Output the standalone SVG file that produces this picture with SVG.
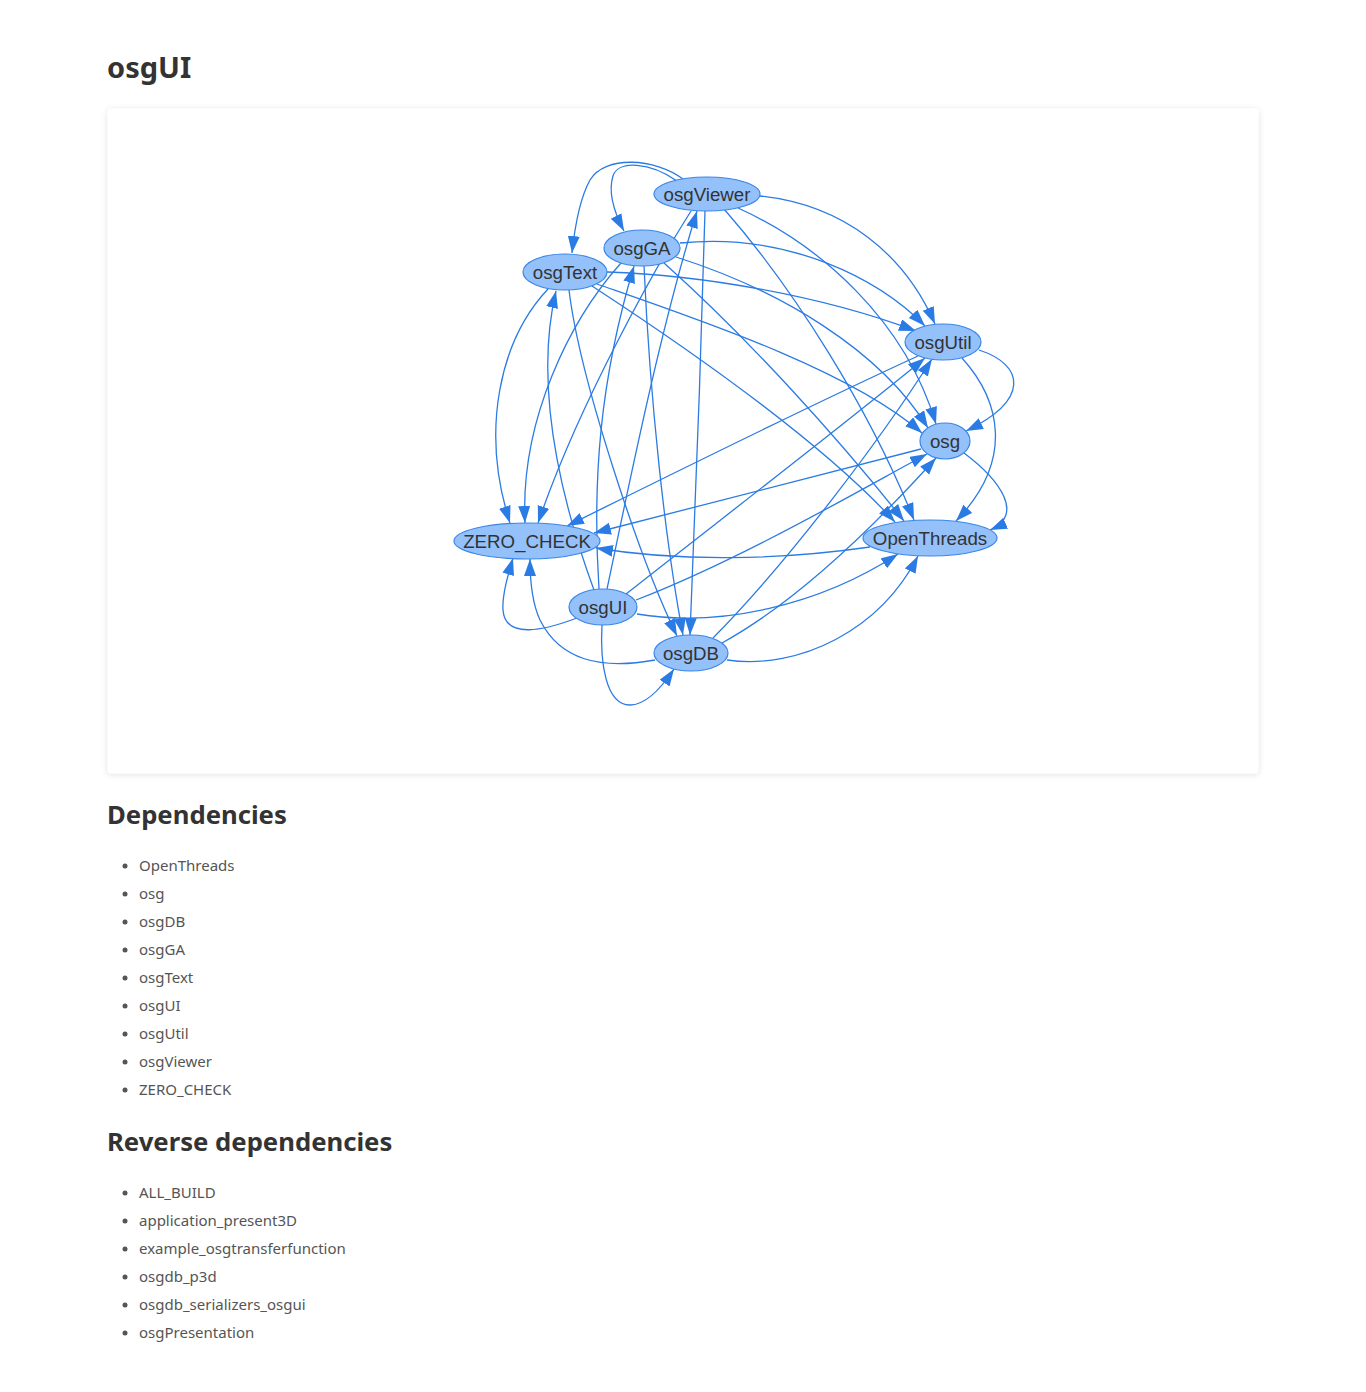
<svg xmlns="http://www.w3.org/2000/svg" width="1366" height="1392" viewBox="0 0 1366 1392">
<defs>
<filter id="shadow" x="-5%" y="-5%" width="110%" height="115%">
<feDropShadow dx="0" dy="1" stdDeviation="3" flood-color="#000" flood-opacity="0.12"/>
</filter>
<marker id="arr" markerUnits="userSpaceOnUse" markerWidth="18" markerHeight="13" refX="17" refY="6" orient="auto">
<path d="M0,0 L17,6 L0,12 z" fill="#2b7be4"/>
</marker>
</defs>
<style>
.h1{font-family:"Noto Sans",sans-serif;font-weight:bold;font-size:29px;fill:#333}
.h2{font-family:"Noto Sans",sans-serif;font-weight:bold;font-size:25.7px;fill:#333}
.li{font-family:"Noto Sans",sans-serif;font-size:15px;fill:#555}
.bul{fill:#555}
.edge{fill:none;stroke:#2b7be4;stroke-width:1.3;marker-end:url(#arr)}
.node ellipse{fill:#94c1fa;stroke:#3a86e8;stroke-width:1.2}
.node text{font-family:"Liberation Sans",Arial,sans-serif;font-size:18.7px;fill:#333;text-anchor:middle}
</style>
<rect width="1366" height="1392" fill="#fff"/>
<text class="h1" x="107" y="78">osgUI</text>
<rect x="107.5" y="108.5" width="1151" height="665" rx="4" fill="#fff" filter="url(#shadow)"/>

<g id="connectors">
<!-- osgViewer -->
<path class="edge" d="M683,179 C655,158 605,155 590,180 C580,198 575,225 572,253"/>
<path class="edge" d="M677,181 C650,162 618,160 613,176 C608,192 614,212 624,231"/>
<path class="edge" d="M760,196 C845,205 905,255 935,324"/>
<path class="edge" d="M738,208 C820,245 905,320 936,424"/>
<path class="edge" d="M724,209 C795,290 870,410 914,520"/>
<path class="edge" d="M705,211 C701,350 696,500 690,635"/>
<path class="edge" d="M691,211 C660,260 580,400 538,523"/>
<!-- osgGA -->
<path class="edge" d="M680,243 C790,232 880,280 925,326"/>
<path class="edge" d="M676,257 C780,290 880,350 928,428"/>
<path class="edge" d="M664,263 C750,340 840,440 904,521"/>
<path class="edge" d="M644,266 C650,400 665,540 683,635"/>
<path class="edge" d="M621,263 C570,320 520,420 525,523"/>
<!-- osgText -->
<path class="edge" d="M607,272 C700,275 820,295 916,331"/>
<path class="edge" d="M597,284 C700,320 850,370 922,433"/>
<path class="edge" d="M592,286 C690,350 820,440 895,522"/>
<path class="edge" d="M569,290 C580,380 640,560 677,636"/>
<path class="edge" d="M548,289 C500,340 480,430 510,523"/>
<!-- osgUI -->
<path class="edge" d="M594,590 C572,530 530,400 556,291"/>
<path class="edge" d="M599,589 C592,480 600,380 634,266"/>
<path class="edge" d="M607,589 C630,480 660,330 697,211"/>
<path class="edge" d="M626,594 C720,520 850,420 925,358"/>
<path class="edge" d="M636,600 C740,560 860,490 927,454"/>
<path class="edge" d="M637,614 C720,628 820,605 898,554"/>
<path class="edge" d="M602,625 C600,660 605,705 630,705 C645,705 660,690 674,669"/>
<path class="edge" d="M577,618 C545,630 505,640 503,610 C502,595 508,575 513,558"/>
<!-- osgDB -->
<path class="edge" d="M713,638 C790,560 880,440 932,359"/>
<path class="edge" d="M722,643 C800,600 880,520 936,458"/>
<path class="edge" d="M727,660 C800,670 880,630 918,556"/>
<path class="edge" d="M655,660 C600,670 560,660 540,620 C533,605 530,580 530,559"/>
<!-- osgUtil -->
<path class="edge" d="M979,350 C1025,365 1030,400 966,431"/>
<path class="edge" d="M962,358 C1000,400 1015,460 956,521"/>
<path class="edge" d="M918,356 C800,410 660,480 567,526"/>
<!-- osg -->
<path class="edge" d="M964,453 C1000,480 1025,515 990,530"/>
<path class="edge" d="M921,449 C800,480 680,510 594,533"/>
<!-- OpenThreads -->
<path class="edge" d="M870,547 C780,560 680,562 596,548"/>
</g>

<g id="osgViewer" class="node"><ellipse cx="707" cy="194" rx="53" ry="17"/><text x="707" y="201">osgViewer</text></g>
<g id="osgGA" class="node"><ellipse cx="642" cy="248" rx="38" ry="18"/><text x="642" y="255">osgGA</text></g>
<g id="osgText" class="node"><ellipse cx="565" cy="272" rx="42" ry="18"/><text x="565" y="279">osgText</text></g>
<g id="osgUtil" class="node"><ellipse cx="943" cy="342" rx="38" ry="18"/><text x="943" y="349">osgUtil</text></g>
<g id="osg" class="node"><ellipse cx="945" cy="441" rx="25" ry="18"/><text x="945" y="448">osg</text></g>
<g id="OpenThreads" class="node"><ellipse cx="930" cy="538" rx="67" ry="18"/><text x="930" y="545">OpenThreads</text></g>
<g id="ZERO_CHECK" class="node"><ellipse cx="527" cy="541" rx="73" ry="18"/><text x="527" y="548">ZERO_CHECK</text></g>
<g id="osgUI" class="node"><ellipse cx="603" cy="607" rx="34" ry="18"/><text x="603" y="614">osgUI</text></g>
<g id="osgDB" class="node"><ellipse cx="691" cy="653" rx="37" ry="18"/><text x="691" y="660">osgDB</text></g>

<text class="h2" x="107" y="824">Dependencies</text>
<g>
<circle class="bul" cx="125" cy="866" r="2.5"/><text class="li" x="139" y="871">OpenThreads</text>
<circle class="bul" cx="125" cy="894" r="2.5"/><text class="li" x="139" y="899">osg</text>
<circle class="bul" cx="125" cy="922" r="2.5"/><text class="li" x="139" y="927">osgDB</text>
<circle class="bul" cx="125" cy="950" r="2.5"/><text class="li" x="139" y="955">osgGA</text>
<circle class="bul" cx="125" cy="978" r="2.5"/><text class="li" x="139" y="983">osgText</text>
<circle class="bul" cx="125" cy="1006" r="2.5"/><text class="li" x="139" y="1011">osgUI</text>
<circle class="bul" cx="125" cy="1034" r="2.5"/><text class="li" x="139" y="1039">osgUtil</text>
<circle class="bul" cx="125" cy="1062" r="2.5"/><text class="li" x="139" y="1067">osgViewer</text>
<circle class="bul" cx="125" cy="1090" r="2.5"/><text class="li" x="139" y="1095">ZERO_CHECK</text>
</g>
<text class="h2" x="107" y="1151">Reverse dependencies</text>
<g>
<circle class="bul" cx="125" cy="1193" r="2.5"/><text class="li" x="139" y="1198">ALL_BUILD</text>
<circle class="bul" cx="125" cy="1221" r="2.5"/><text class="li" x="139" y="1226">application_present3D</text>
<circle class="bul" cx="125" cy="1249" r="2.5"/><text class="li" x="139" y="1254">example_osgtransferfunction</text>
<circle class="bul" cx="125" cy="1277" r="2.5"/><text class="li" x="139" y="1282">osgdb_p3d</text>
<circle class="bul" cx="125" cy="1305" r="2.5"/><text class="li" x="139" y="1310">osgdb_serializers_osgui</text>
<circle class="bul" cx="125" cy="1333" r="2.5"/><text class="li" x="139" y="1338">osgPresentation</text>
</g>
</svg>
